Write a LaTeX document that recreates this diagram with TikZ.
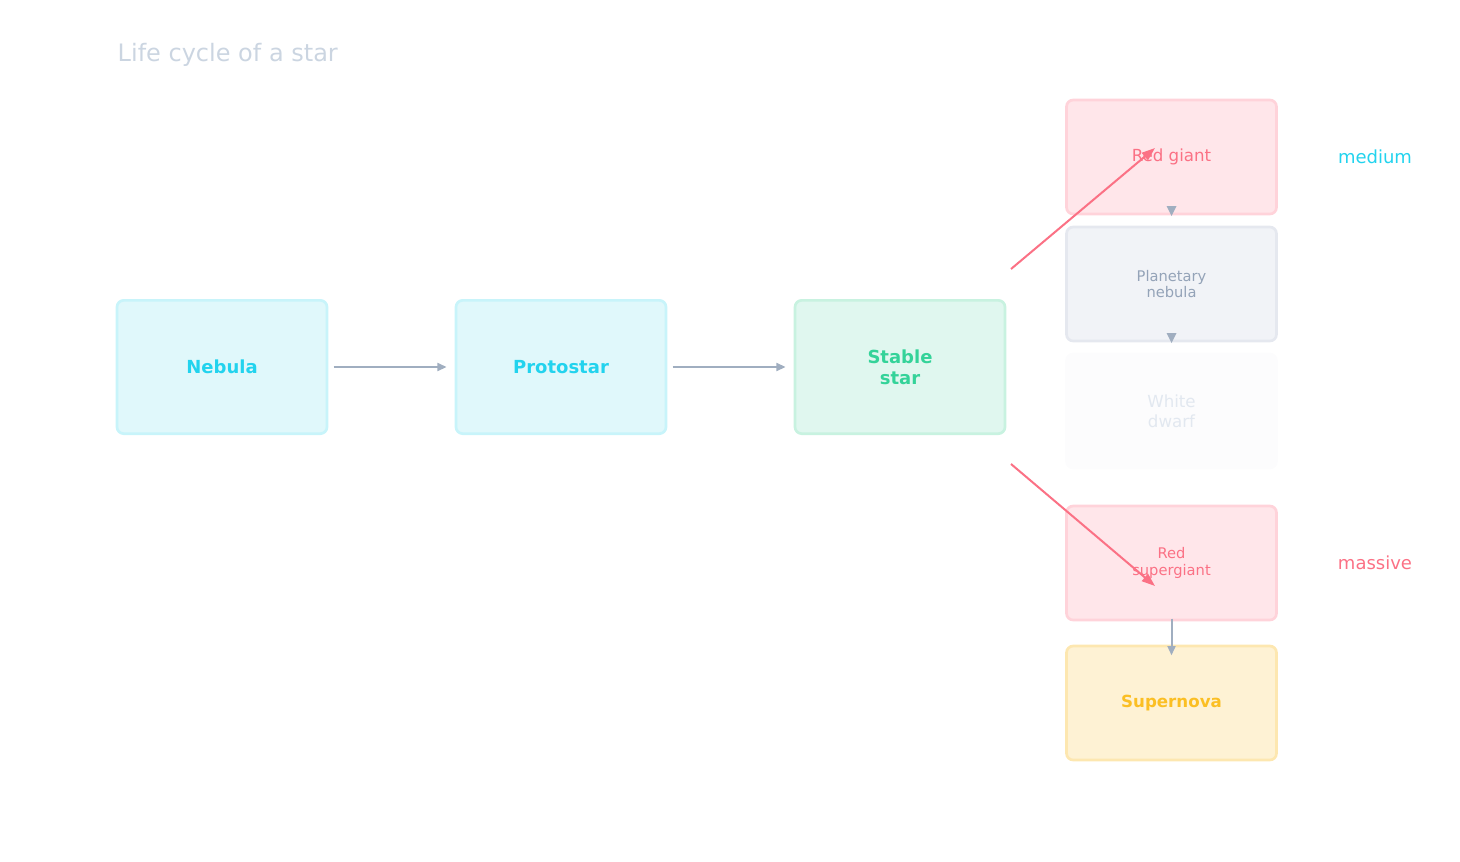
\documentclass[tikz,border=0pt]{standalone}
\usepackage{fontspec}
\setmainfont{DejaVu Sans}
\usetikzlibrary{arrows.meta}
\definecolor{cyantxt}{HTML}{22D3EE}
\definecolor{cyanfill}{HTML}{E0F8FB}
\definecolor{cyanline}{HTML}{C8F4FA}
\definecolor{greentxt}{HTML}{34D399}
\definecolor{greenfill}{HTML}{E0F7EF}
\definecolor{greenline}{HTML}{C8F2E0}
\definecolor{redtxt}{HTML}{FB7185}
\definecolor{redfill}{HTML}{FFE6EA}
\definecolor{redline}{HTML}{FFD3DA}
\definecolor{yeltxt}{HTML}{FBBF24}
\definecolor{yelfill}{HTML}{FEF2D4}
\definecolor{yelline}{HTML}{FDE7B0}
\definecolor{graytxt}{HTML}{94A3B8}
\definecolor{grayfill}{HTML}{F1F3F7}
\definecolor{grayline}{HTML}{E5E8EF}
\definecolor{wdfill}{HTML}{FCFCFD}
\definecolor{wdtxt}{HTML}{E2E8F0}
\definecolor{titletxt}{HTML}{CBD5E1}
\definecolor{arrowgray}{HTML}{A0AEC0}
\begin{document}
\begin{tikzpicture}[x=0.75pt,y=-0.75pt,every text node part/.style={align=center},
  box/.style={draw, rounded corners=5pt, line width=2pt, minimum width=157.5pt, inner sep=0pt},
  lbox/.style={box, minimum height=100pt},
  rbox/.style={box, minimum height=85.5pt},
  flow/.style={-{Triangle[length=7pt,width=6pt]}, arrowgray, line width=1.5pt},
  branch/.style={-{Triangle[length=10pt,width=7pt]}, redtxt, line width=1.5pt}]
\useasboundingbox (0,0) rectangle (1460,861);
\node[anchor=west, text=titletxt, font=\fontsize{18}{20}\selectfont] (title) at (113,55) {Life cycle of a star};
\node[lbox, draw=cyanline, fill=cyanfill, text=cyantxt, font=\fontsize{13.5}{16}\selectfont\bfseries] (nebula) at (222,367) {Nebula};
\node[lbox, draw=cyanline, fill=cyanfill, text=cyantxt, font=\fontsize{13.5}{16}\selectfont\bfseries] (proto) at (561,367) {Protostar};
\node[lbox, draw=greenline, fill=greenfill, text=greentxt, font=\fontsize{13.5}{16}\selectfont\bfseries] (stable) at (900,367) {Stable\\star};
\node[rbox, draw=redline, fill=redfill, text=redtxt, font=\fontsize{12.5}{15}\selectfont] (giant) at (1171.5,157) {Red giant};
\node[rbox, draw=grayline, fill=grayfill, text=graytxt, font=\fontsize{11}{12.5}\selectfont] (planet) at (1171.5,284) {Planetary\\nebula};
\node[rbox, draw=wdfill, fill=wdfill, text=wdtxt, font=\fontsize{12.5}{15}\selectfont] (dwarf) at (1171.5,411) {White\\dwarf};
\node[rbox, draw=redline, fill=redfill, text=redtxt, font=\fontsize{11}{12.5}\selectfont] (super) at (1171.5,563) {Red\\supergiant};
\node[rbox, draw=yelline, fill=yelfill, text=yeltxt, font=\fontsize{12.5}{15}\selectfont\bfseries] (nova) at (1171.5,703) {Supernova};
\node[text=cyantxt, font=\fontsize{13.5}{16}\selectfont] (medium) at (1375,157) {medium};
\node[text=redtxt, font=\fontsize{13.5}{16}\selectfont] (massive) at (1375,563) {massive};
% flow arrows
\draw[flow] ([xshift=4pt]nebula.east) -- ([xshift=-6pt]proto.west);
\draw[flow] ([xshift=4pt]proto.east) -- ([xshift=-6pt]stable.west);
\fill[arrowgray] (1166.5,206) -- (1176.5,206) -- (1171.5,216) -- cycle;
\fill[arrowgray] (1166.5,333) -- (1176.5,333) -- (1171.5,343) -- cycle;
\draw[flow] ([yshift=2pt]super.south) -- ([yshift=-8pt]nova.north);
% branches
\coordinate (up) at (1011,269);
\coordinate (down) at (1011,464);
\draw[branch] (up) -- (1155,148);
\draw[branch] (down) -- (1155,586);
\end{tikzpicture}
\end{document}
